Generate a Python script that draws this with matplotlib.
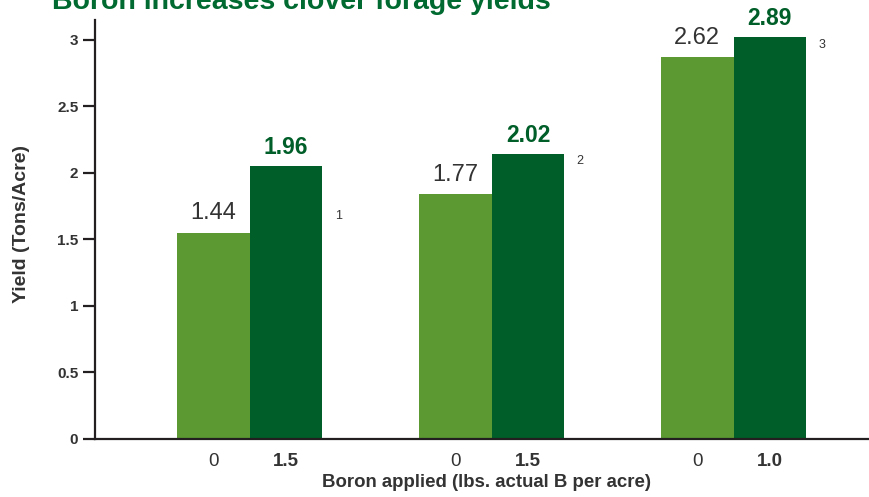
import numpy as np
import matplotlib
matplotlib.use("Agg")
import matplotlib.pyplot as plt

# --- data ---
groups = ["Trial 1", "Trial 2", "Trial 3"]
rates = ["1.5", "1.5", "1.0"]                 # boron rate of the treated bar
control_heights = [1.55, 1.84, 2.87]           # bar heights as drawn
boron_heights = [2.05, 2.14, 3.02]
control_labels = ["1.44", "1.77", "2.62"]      # printed values
boron_labels = ["1.96", "2.02", "2.89"]
notes = ["1", "2", "3"]
note_y = [1.68, 2.09, 2.96]
yticks = [0, 0.5, 1, 1.5, 2, 2.5, 3]

light = "#5c9933"
dark = "#005e28"
title_green = "#006a30"
text_gray = "#333333"
axis_col = "#231f20"

plt.rcParams["font.family"] = ["Liberation Sans", "DejaVu Sans"]

fig = plt.figure(figsize=(8.69, 4.97), dpi=100)
ax = fig.add_axes([95 / 869, 1 - 439 / 497, 1 - 95 / 869, (439 - 20) / 497])

x = np.arange(len(groups))
w = 0.30
ax.bar(x - w / 2, control_heights, w, color=light, zorder=2)
ax.bar(x + w / 2, boron_heights, w, color=dark, zorder=2)

for i in range(len(groups)):
    ax.annotate(control_labels[i], (x[i] - w / 2, control_heights[i]),
                xytext=(0, 6), textcoords="offset points", ha="center",
                va="bottom", fontsize=17, color=text_gray)
    ax.annotate(boron_labels[i], (x[i] + w / 2, boron_heights[i]),
                xytext=(0, 5), textcoords="offset points", ha="center",
                va="bottom", fontsize=16.5, color=dark, fontweight="bold")
    ax.annotate(notes[i], (x[i] + w, note_y[i]), xytext=(9, 0),
                textcoords="offset points", ha="left", va="center",
                fontsize=9, color=text_gray)
    # x labels under each bar
    ax.annotate("0", (x[i] - w / 2, 0), xytext=(0, -10), textcoords="offset points",
                ha="center", va="top", fontsize=13.5, color=text_gray,
                annotation_clip=False)
    ax.annotate(rates[i], (x[i] + w / 2, 0), xytext=(0, -10), textcoords="offset points",
                ha="center", va="top", fontsize=13.5, color=text_gray,
                fontweight="bold", annotation_clip=False)

ax.set_xlim(-0.64, 2.56)
ax.set_ylim(0, 3.15)
ax.set_xticks([])
ax.set_yticks(yticks)
ax.set_yticklabels([f"{t:g}" for t in yticks], fontsize=11, fontweight="bold",
                   color=text_gray)
ax.tick_params(axis="y", length=9, width=1.6, color=axis_col, pad=3)

for s in ["top", "right"]:
    ax.spines[s].set_visible(False)
for s in ["left", "bottom"]:
    ax.spines[s].set_linewidth(1.6)
    ax.spines[s].set_color(axis_col)

fig.text(22 / 869, 1 - 224 / 497, "Yield (Tons/Acre)", rotation=90, ha="center",
         va="center", fontsize=14, fontweight="bold", color=text_gray)
fig.text(487 / 869, 1 - 487 / 497, "Boron applied (lbs. actual B per acre)",
         ha="center", va="baseline", fontsize=13.4, fontweight="bold", color=text_gray)
fig.text(52 / 869, 1 - 9 / 497, "Boron increases clover forage yields",
         ha="left", va="baseline", fontsize=20.5, fontweight="bold", color=title_green)

fig.savefig("out.png", dpi=100)
